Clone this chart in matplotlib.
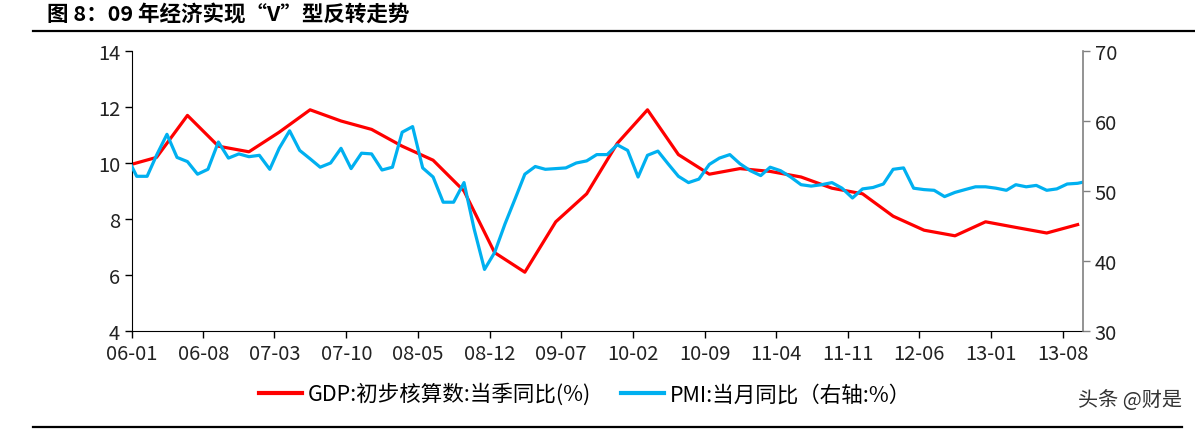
"""图 8：09 年经济实现“V”型反转走势 —— GDP 当季同比 与 PMI（右轴）"""
import pandas as pd
import matplotlib
matplotlib.use("Agg")
import matplotlib.pyplot as plt
from matplotlib.lines import Line2D

plt.rcParams["font.family"] = ["Noto Sans CJK SC", "DejaVu Sans"]

# monthly PMI, 2005-12 .. 2013-10
pmi = [55.1,
       52.1, 52.1, 55.1, 58.1, 54.8, 54.2, 52.4, 53.1, 57.0, 54.7, 55.3, 54.9,
       55.1, 53.1, 56.1, 58.6, 55.8, 54.6, 53.4, 54.0, 56.1, 53.2, 55.4, 55.3,
       53.0, 53.4, 58.4, 59.2, 53.3, 52.0, 48.4, 48.4, 51.2, 44.6, 38.8, 41.2,
       45.3, 49.0, 52.4, 53.5, 53.1, 53.2, 53.3, 54.0, 54.3, 55.2, 55.2, 56.6,
       55.8, 52.0, 55.1, 55.7, 53.9, 52.1, 51.2, 51.7, 53.8, 54.7, 55.2, 53.9,
       52.9, 52.2, 53.4, 52.9, 52.0, 50.9, 50.7, 50.9, 51.2, 50.4, 49.0, 50.3,
       50.5, 51.0, 53.1, 53.3, 50.4, 50.2, 50.1, 49.2, 49.8, 50.2, 50.6, 50.6,
       50.4, 50.1, 50.9, 50.6, 50.8, 50.1, 50.3, 51.0, 51.1, 51.4]
# quarterly GDP yoy, 2005Q4 .. 2013Q3
gdp = [9.9,
       10.2, 11.7, 10.6, 10.4,
       11.1, 11.9, 11.5, 11.2,
       10.6, 10.1, 9.0, 6.8,
       6.1, 7.9, 8.9, 10.7,
       11.9, 10.3, 9.6, 9.8,
       9.7, 9.5, 9.1, 8.9,
       8.1, 7.6, 7.4, 7.9,
       7.7, 7.5, 7.8]

pmi_dates = pd.date_range("2005-12-01", periods=len(pmi), freq="MS") + pd.Timedelta(days=14)
gdp_dates = pd.date_range("2005-12-01", periods=len(gdp), freq="3MS") + pd.Timedelta(days=14)
tick_dates = pd.date_range("2006-01-01", "2013-08-01", freq="7MS")
tick_labels = [d.strftime("%y-%m") for d in tick_dates]

RED = "#FF0000"
BLUE = "#00B0F0"

fig = plt.figure(figsize=(11.95, 4.31), dpi=100)
ax = fig.add_axes([132 / 1195, 1 - 332 / 431, (1083 - 132) / 1195, 280 / 431])
ax2 = ax.twinx()

ax.plot(gdp_dates, gdp, color=RED, lw=2.3, solid_joinstyle="round")
ax2.plot(pmi_dates, pmi, color=BLUE, lw=2.3, solid_joinstyle="round")

ax.set_xlim(pd.Timestamp("2006-01-01"), pd.Timestamp("2013-10-01"))
ax.set_ylim(4, 14)
ax.set_yticks(range(4, 15, 2))
ax2.set_ylim(30, 70)
ax2.set_yticks(range(30, 71, 10))
ax.set_xticks(tick_dates)
ax.set_xticklabels(tick_labels)

for s in ["top", "right"]:
    ax.spines[s].set_visible(False)
ax2.spines["top"].set_visible(False)
ax2.spines["left"].set_visible(False)
ax2.spines["bottom"].set_visible(False)
ax2.spines["right"].set_color("#808080")
ax2.spines["right"].set_linewidth(1.2)

ax.tick_params(axis="both", direction="out", length=5, width=1, labelsize=14.5,
               labelcolor="#222222")
ax.tick_params(axis="x", pad=4)
ax2.tick_params(axis="y", direction="out", length=5, width=1, labelsize=14.5, colors="#808080",
                labelcolor="#222222")

# title and rules
fig.text(47 / 1195, 1 - 15 / 431, "图 8：09 年经济实现“V”型反转走势", fontsize=15.5,
         fontweight="bold", ha="left", va="center")
fig.add_artist(Line2D([33 / 1195, 1.0], [1 - 32 / 431] * 2, color="black", lw=1.6))
fig.add_artist(Line2D([33 / 1195, 1182 / 1195], [1 - 428 / 431] * 2, color="black", lw=1.6))

handles = [Line2D([], [], color=RED, lw=3), Line2D([], [], color=BLUE, lw=3)]
fig.legend(handles, ["GDP:初步核算数:当季同比(%)", "PMI:当月同比（右轴:%）"],
           loc="center", bbox_to_anchor=(585 / 1195, 1 - 395 / 431), ncol=2, frameon=False,
           fontsize=15.5, handlelength=2.0, handletextpad=0.25, columnspacing=1.4)

fig.text(1182 / 1195, 1 - 401 / 431, "头条 @财是", fontsize=14.5, color="#333333",
         ha="right", va="center")

fig.savefig("out.png", dpi=100)
print("Saved out.png")
